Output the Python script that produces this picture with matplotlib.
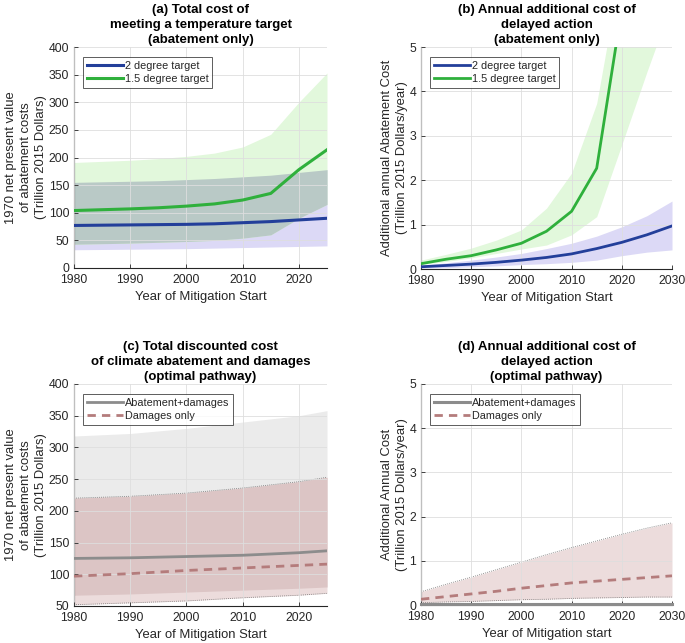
import numpy as np
import matplotlib
matplotlib.use("Agg")
import matplotlib.pyplot as plt

plt.rcParams['font.family'] = ['Liberation Sans', 'DejaVu Sans']

# ---------------- data ----------------
years_a = [1980, 1985, 1990, 1995, 2000, 2005, 2010, 2015, 2020, 2025]
a_two = [77, 77.5, 78, 78.5, 79, 80, 82, 84, 87, 90]
a_two_hi = [155, 156, 157, 158, 160, 162, 165, 168, 173, 178]
a_two_lo = [33, 33.5, 34, 34.5, 35, 36, 37, 38, 39, 40]
a_onefive = [104, 105.5, 107, 109, 112, 116, 123, 135, 178, 214]
a_onefive_hi = [191, 193, 195, 198, 202, 208, 219, 242, 300, 353]
a_onefive_lo = [43, 44, 45, 46.5, 48, 50, 54, 60, 90, 115]

years_b = [1980, 1985, 1990, 1995, 2000, 2005, 2010, 2015, 2020, 2025, 2030]
b_two = [0.05, 0.08, 0.11, 0.15, 0.2, 0.26, 0.34, 0.46, 0.6, 0.77, 0.97]
b_two_hi = [0.08, 0.14, 0.2, 0.27, 0.35, 0.46, 0.58, 0.74, 0.95, 1.2, 1.53]
b_two_lo = [0.02, 0.03, 0.05, 0.07, 0.1, 0.12, 0.15, 0.2, 0.3, 0.38, 0.43]
years_b15 = [1980, 1985, 1990, 1995, 2000, 2005, 2010, 2015, 2020]
b_onefive = [0.12, 0.22, 0.3, 0.43, 0.58, 0.85, 1.3, 2.27, 5.86]
b_onefive_hi = [0.2, 0.33, 0.47, 0.65, 0.88, 1.37, 2.16, 3.73, 6.9, 9.0, 11.0]
b_onefive_lo = [0.1, 0.17, 0.25, 0.35, 0.45, 0.54, 0.77, 1.18, 2.8, 4.44, 6.0]

years_c = [1980, 1985, 1990, 1995, 2000, 2005, 2010, 2015, 2020, 2025]
c_total = [125, 125.5, 126, 127, 128, 129, 130, 132, 134, 137]
c_total_hi = [318, 320, 322, 326, 330, 335, 340, 345, 350, 358]
c_total_lo = [67, 68, 69, 70.5, 72, 73.5, 75, 76.5, 78, 80]
c_dam = [97, 99, 101, 103.5, 106, 108, 110, 112, 114, 116]
c_dam_hi = [220, 221.5, 223, 225.5, 228, 232, 236, 241, 246, 253]
c_dam_lo = [52, 53.5, 55, 56.5, 58, 60.5, 63, 65, 67, 70]

years_d = [1980, 1985, 1990, 1995, 2000, 2005, 2010, 2015, 2020, 2025, 2030]
d_total = [0.02, 0.02, 0.02, 0.02, 0.02, 0.02, 0.02, 0.02, 0.02, 0.02, 0.02]
d_dam = [0.13, 0.19, 0.25, 0.31, 0.38, 0.44, 0.5, 0.54, 0.58, 0.62, 0.66]
d_dam_hi = [0.3, 0.47, 0.63, 0.8, 0.97, 1.14, 1.3, 1.45, 1.6, 1.74, 1.86]
d_dam_lo = [0.05, 0.07, 0.08, 0.1, 0.12, 0.13, 0.15, 0.16, 0.17, 0.18, 0.18]

titles = ["(a) Total cost of\nmeeting a temperature target\n(abatement only)",
          "(b) Annual additional cost of\ndelayed action\n(abatement only)",
          "(c) Total discounted cost\nof climate abatement and damages\n(optimal pathway)",
          "(d) Annual additional cost of\ndelayed action\n(optimal pathway)"]
ylabels = ["1970 net present value\nof abatement costs\n(Trillion 2015 Dollars)",
           "Additional annual Abatement Cost\n(Trillion 2015 Dollars/year)",
           "1970 net present value\nof abatement costs\n(Trillion 2015 Dollars)",
           "Additional Annual Cost\n(Trillion 2015 Dollars/year)"]
xlabels = ["Year of Mitigation Start", "Year of Mitigation Start",
           "Year of Mitigation Start", "Year of Mitigation start"]
legend_ab = ["2 degree target", "1.5 degree target"]
legend_cd = ["Abatement+damages", "Damages only"]

# ---------------- style ----------------
BLUE = '#233f9a'
GREEN = '#2fb03c'
BLUE_F = '#dcd9f6'
GREEN_F = '#e2f8dc'
OVER_AB = '#b9c9c6'
GRAY = '#8c8c8c'
RED = '#b47c7c'
GRAY_F = '#ebebeb'
RED_F = '#ecdcdc'
OVER_CD = '#dcc5c5'
TXT = '#262626'
FS = 8.8
LFS = 9.4

fig = plt.figure(figsize=(6.85, 6.43), dpi=100)
W, H = 685, 643
def ax_at(l, r, t, b):
    return fig.add_axes([l / W, 1 - b / H, (r - l) / W, (b - t) / H])

axa = ax_at(74, 327, 47, 268)
axb = ax_at(421, 672, 47, 269)
axc = ax_at(74, 327, 384, 606)
axd = ax_at(421, 672, 384, 605)

def style(ax, title, ylabel, xlabel, xlim, ylim, yticks, xticks):
    ax.set_xlim(*xlim)
    ax.set_ylim(*ylim)
    ax.set_yticks(yticks)
    ax.set_xticks(xticks)
    ax.grid(True, color='#dedede', lw=0.6)
    ax.set_axisbelow(False)
    for s in ['top', 'right']:
        ax.spines[s].set_visible(False)
    for s in ['left', 'bottom']:
        ax.spines[s].set_color(TXT)
        ax.spines[s].set_linewidth(0.8)
    ax.tick_params(direction='in', length=3, width=0.6, color=TXT,
                   labelcolor=TXT, labelsize=FS)
    ax.tick_params(axis='x', pad=4.5)
    ax.tick_params(axis='y', pad=3.5)
    ax.set_title(title, fontsize=9.5, fontweight='bold', color='black',
                 pad=3, linespacing=1.3)
    ax.set_ylabel(ylabel, fontsize=LFS, color=TXT, linespacing=1.35, labelpad=1)
    ax.set_xlabel(xlabel, fontsize=LFS, color=TXT, labelpad=3.5)

def legend(ax, handles, labels):
    lg = ax.legend(handles, labels, loc='upper left', bbox_to_anchor=(0.036, 0.955),
                   borderaxespad=0, fontsize=7.8, frameon=True, fancybox=False,
                   handlelength=3.3, handletextpad=0.2, labelspacing=0.3,
                   borderpad=0.35)
    lg.get_frame().set_edgecolor('#333333')
    lg.get_frame().set_linewidth(0.7)
    for t in lg.get_texts():
        t.set_color(TXT)

def bands(ax, x, lo1, hi1, c1, lo2, hi2, c2, cov):
    x = np.asarray(x, float)
    lo1, hi1, lo2, hi2 = map(np.asarray, (lo1, hi1, lo2, hi2))
    ax.fill_between(x, lo1, hi1, color=c1, lw=0, zorder=0.5)
    ax.fill_between(x, lo2, hi2, color=c2, lw=0, zorder=0.6)
    olo = np.maximum(lo1, lo2)
    ohi = np.minimum(hi1, hi2)
    ax.fill_between(x, olo, ohi, where=ohi > olo, interpolate=True,
                    color=cov, lw=0, zorder=0.7)

# (a)
bands(axa, years_a, a_two_lo, a_two_hi, BLUE_F, a_onefive_lo, a_onefive_hi,
      GREEN_F, OVER_AB)
la, = axa.plot(years_a, a_two, color=BLUE, lw=2.2, zorder=3)
lb, = axa.plot(years_a, a_onefive, color=GREEN, lw=2.2, zorder=3)
style(axa, titles[0], ylabels[0], xlabels[0], (1980, 2025), (0, 400),
      np.arange(0, 401, 50), np.arange(1980, 2021, 10))
legend(axa, [la, lb], legend_ab)

# (b)
bands(axb, years_b, b_two_lo, b_two_hi, BLUE_F, b_onefive_lo, b_onefive_hi,
      GREEN_F, OVER_AB)
la, = axb.plot(years_b, b_two, color=BLUE, lw=2.0, zorder=3)
lb, = axb.plot(years_b15, b_onefive, color=GREEN, lw=2.0, zorder=3)
style(axb, titles[1], ylabels[1], xlabels[1], (1980, 2030), (0, 5),
      np.arange(0, 6, 1), np.arange(1980, 2031, 10))
legend(axb, [la, lb], legend_ab)

# (c)
bands(axc, years_c, c_total_lo, c_total_hi, GRAY_F, c_dam_lo, c_dam_hi,
      RED_F, OVER_CD)
for arr in (c_dam_hi, c_dam_lo):
    axc.plot(years_c, arr, color='#777777', lw=0.6, ls=(0, (1, 1.5)), zorder=1)
la, = axc.plot(years_c, c_total, color=GRAY, lw=2.0, zorder=3)
lb, = axc.plot(years_c, c_dam, color=RED, lw=2.0, ls=(0, (3, 2.2)), zorder=3)
style(axc, titles[2], ylabels[2], xlabels[2], (1980, 2025), (50, 400),
      np.arange(50, 401, 50), np.arange(1980, 2021, 10))
legend(axc, [la, lb], legend_cd)

# (d)
axd.fill_between(years_d, d_dam_lo, d_dam_hi, color=RED_F, lw=0, zorder=0.6)
for arr in (d_dam_hi, d_dam_lo):
    axd.plot(years_d, arr, color='#777777', lw=0.6, ls=(0, (1, 1.5)), zorder=1)
la, = axd.plot(years_d, d_total, color=GRAY, lw=2.2, zorder=3, clip_on=False)
lb, = axd.plot(years_d, d_dam, color=RED, lw=2.0, ls=(0, (3, 2.2)), zorder=3)
style(axd, titles[3], ylabels[3], xlabels[3], (1980, 2030), (0, 5),
      np.arange(0, 6, 1), np.arange(1980, 2031, 10))
legend(axd, [la, lb], legend_cd)

fig.savefig("out.png", dpi=100)
